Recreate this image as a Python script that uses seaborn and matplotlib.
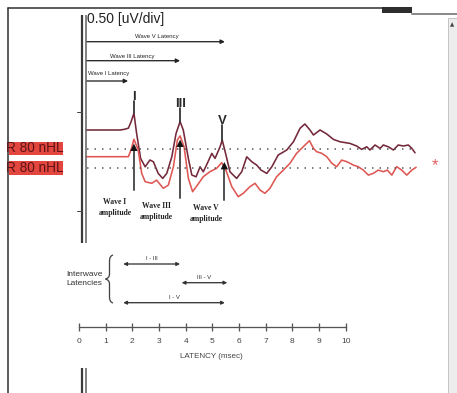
import matplotlib
matplotlib.use("Agg")
import numpy as np
import pandas as pd
import matplotlib.pyplot as plt
import seaborn as sns
from matplotlib.transforms import blended_transform_factory
from matplotlib.patches import Rectangle, PathPatch
from matplotlib.path import Path

# ---------------- data (latency in ms, amplitude in uV) ----------------
upper_latency = [0.26, 1.54, 1.69, 1.85, 1.95, 2.06, 2.16, 2.31, 2.48, 2.66, 2.79, 2.97,
                 3.14, 3.29, 3.48, 3.64, 3.79, 3.91, 4.10, 4.23, 4.39, 4.54, 4.66, 4.81,
                 4.98, 5.10, 5.29, 5.37, 5.51, 5.66, 5.91, 6.10, 6.29, 6.48, 6.66, 6.82,
                 7.04, 7.23, 7.47, 7.79, 8.04, 8.29, 8.47, 8.66, 8.79, 9.04, 9.29, 9.54,
                 9.79, 10.16, 10.41, 10.60, 10.79, 10.91, 11.10, 11.29, 11.41, 11.60,
                 11.79, 11.97, 12.16, 12.35, 12.48, 12.60]
upper_amp = [0.0, 0.0, 0.003, 0.009, 0.04, 0.084, -0.017, -0.142, -0.184, -0.15, -0.159,
             -0.217, -0.242, -0.217, -0.134, -0.017, 0.042, 0.0, -0.142, -0.225, -0.234,
             -0.184, -0.209, -0.167, -0.117, -0.142, -0.084, -0.05, -0.125, -0.209,
             -0.242, -0.209, -0.134, -0.159, -0.175, -0.2, -0.217, -0.184, -0.125, -0.1,
             -0.059, 0.009, 0.03, 0.0, -0.025, 0.0, -0.02, -0.047, -0.059, -0.067, -0.08,
             -0.097, -0.084, -0.1, -0.075, -0.092, -0.075, -0.084, -0.1, -0.075, -0.08,
             -0.075, -0.092, -0.114]
lower_latency = [0.26, 1.69, 1.85, 1.95, 2.06, 2.22, 2.35, 2.48, 2.73, 2.91, 3.16, 3.35,
                 3.54, 3.69, 3.79, 3.94, 4.10, 4.26, 4.44, 4.66, 4.91, 5.16, 5.35, 5.51,
                 5.73, 5.97, 6.16, 6.41, 6.60, 6.79, 6.97, 7.16, 7.41, 7.66, 7.91, 8.16,
                 8.41, 8.64, 8.79, 8.91, 9.10, 9.29, 9.48, 9.66, 9.85, 10.04, 10.29, 10.47,
                 10.66, 10.85, 11.04, 11.22, 11.41, 11.56, 11.73, 11.91, 12.10, 12.29,
                 12.48, 12.64]
lower_amp = [0.0, 0.0, 0.0, 0.034, 0.087, 0.034, -0.083, -0.125, -0.133, -0.117, -0.158,
             -0.142, -0.05, 0.084, 0.104, 0.05, -0.108, -0.175, -0.142, -0.1, -0.075,
             -0.058, -0.03, -0.067, -0.15, -0.2, -0.183, -0.15, -0.133, -0.167, -0.183,
             -0.158, -0.1, -0.067, -0.033, 0.017, 0.05, 0.08, 0.042, 0.025, 0.017, 0.0,
             -0.033, -0.05, -0.017, -0.025, -0.042, -0.05, -0.067, -0.092, -0.083, -0.067,
             -0.075, -0.067, -0.092, -0.05, -0.067, -0.092, -0.067, -0.053]
lower_offset = -0.1335
baseline_levels = [-0.0965, -0.1915]
baseline_span = [0.3, 12.6]

wave_names = ["I", "III", "V"]
peak_latency = [2.06, 3.79, 5.37]
peak_amp = [0.084, 0.042, -0.05]
label_level = [0.145, 0.11, 0.025]

latency_arrow_names = ["Wave I Latency", "Wave III Latency", "Wave V Latency"]
latency_arrow_start = 0.3
latency_arrow_end = [1.84, 3.79, 5.47]

amp_names = ["Wave I\namplitude", "Wave III\namplitude", "Wave V\namplitude"]
amp_marker_latency = [2.06, 3.79, 5.45]
amp_marker_level = [-0.0915, -0.0715, -0.1835]
amp_marker_bottom = [-0.30, -0.34, -0.35]

interwave_names = ["I - III", "III - V", "I - V"]
interwave_start = [1.66, 3.85, 1.66]
interwave_end = [3.79, 5.56, 5.47]

axis_ticks = list(range(0, 11))
channel_labels = ["R 80 nHL", "R 80 nHL"]

# ---------------- figure ----------------
W, H = 457, 393
PX_PER_MS, X0 = 26.67, 79.0
sns.set_style("white")
fig = plt.figure(figsize=(W / 100, H / 100), dpi=100)
ax = fig.add_axes([0, 0, 1, 1])
ax.set_xlim(-X0 / PX_PER_MS, (W - X0) / PX_PER_MS)
ax.set_ylim((130 - H) / 200, 130 / 200)
ax.axis("off")

SANS = "Liberation Sans"
SERIF = "Liberation Serif"
PT = 0.72  # points per pixel

def fy(row):
    return 1 - row / H

def fx(px):
    return px / W

tx = blended_transform_factory(ax.transData, ax.transAxes)  # x ms, y fraction

# traces
df = pd.concat([
    pd.DataFrame({"latency": upper_latency, "uV": upper_amp, "trace": "upper"}),
    pd.DataFrame({"latency": lower_latency,
                  "uV": np.array(lower_amp) + lower_offset, "trace": "lower"}),
])
sns.lineplot(data=df, x="latency", y="uV", hue="trace",
             palette={"upper": "#74293b", "lower": "#de5753"},
             sort=False, estimator=None, legend=False, lw=1.6 * PT, ax=ax)

# dotted baselines
for lv in baseline_levels:
    ax.hlines(lv, baseline_span[0], baseline_span[1], colors="#555555",
              linestyles=(0, (1, 4)), lw=1.5 * PT)

# peak labels
for name, x, pa, lv in zip(wave_names, peak_latency, peak_amp, label_level):
    ax.plot([x, x], [pa, lv], color="#333333", lw=1.8 * PT)
    ax.text(x, lv - 0.01, name, ha="center", va="bottom", fontsize=9.5,
            family=SANS, color="#2a2a2a", weight="bold")

# amplitude markers
for name, x, lv, lb in zip(amp_names, amp_marker_latency, amp_marker_level, amp_marker_bottom):
    ax.plot([x, x], [lb, lv], color="#555555", lw=2 * PT)
sns.scatterplot(x=amp_marker_latency, y=np.array(amp_marker_level) + 0.005, marker="^",
                s=28, color="#111111", edgecolor="none", ax=ax, zorder=5)
amp_text_x = [1.35, 2.9, 4.76]
amp_text_row = [198, 202, 204]
for name, x, r in zip(amp_names, amp_text_x, amp_text_row):
    ax.text(x, fy(r), name, transform=tx, ha="center", va="top", fontsize=5.5,
            family=SERIF, weight="bold", color="#222222", linespacing=1.45)

# latency arrows (top)
arrow_rows = [81, 60.7, 41.7]
label_rows = [73, 56.5, 36.5]
label_x = [1.1, 1.99, 2.92]
for name, end, r, lr, lx in zip(latency_arrow_names, latency_arrow_end, arrow_rows, label_rows, label_x):
    ax.annotate("", xy=(end, fy(r)), xytext=(latency_arrow_start, fy(r)),
                xycoords=tx, textcoords=tx,
                arrowprops=dict(arrowstyle="-|>", lw=1.3 * PT, color="#222222",
                                mutation_scale=6, shrinkA=0, shrinkB=0))
    ax.text(lx, fy(lr), name, transform=tx, ha="center", va="center", fontsize=4.3,
            family=SANS, color="#222222")

# interwave arrows
iw_rows = [264, 282.7, 302.7]
for name, s, e, r in zip(interwave_names, interwave_start, interwave_end, iw_rows):
    ax.annotate("", xy=(e, fy(r)), xytext=(s, fy(r)), xycoords=tx, textcoords=tx,
                arrowprops=dict(arrowstyle="<|-|>", lw=1.3 * PT, color="#333333",
                                mutation_scale=5, shrinkA=0, shrinkB=0))
    ax.text((s + e) / 2, fy(r - 5), name, transform=tx, ha="center", va="center",
            fontsize=4.3, family=SANS, color="#333333")
ax.text(fx(102.5), fy(279), "Interwave\nLatencies", transform=ax.transAxes, ha="right",
        va="center", fontsize=6, family=SANS, color="#333333", linespacing=1.25)
# brace
bx, top, mid, bot = 109.5, 255, 279, 303
codes = [Path.MOVETO, Path.CURVE3, Path.CURVE3, Path.LINETO,
         Path.LINETO, Path.CURVE3, Path.CURVE3, Path.CURVE3, Path.CURVE3,
         Path.LINETO, Path.CURVE3, Path.CURVE3, Path.LINETO]
verts = [(bx + 3.5, top), (bx, top + 1), (bx, top + 6),
         (bx, mid - 5), (bx, mid - 5), (bx, mid - 1), (bx - 4, mid),
         (bx, mid + 1), (bx, mid + 5),
         (bx, bot - 6), (bx, bot - 1), (bx + 3.5, bot), (bx + 3.5, bot)]
ax.add_patch(PathPatch(Path([(fx(a), fy(b)) for a, b in verts], codes),
                       transform=ax.transAxes, fill=False, lw=1.3 * PT, ec="#444444"))

# latency axis
ax2 = fig.add_axes([0, fy(327.3), 1, 0.02])
ax2.set_xlim(ax.get_xlim())
ax2.patch.set_alpha(0)
for s in ["top", "left", "right"]:
    ax2.spines[s].set_visible(False)
ax2.spines["bottom"].set_bounds(axis_ticks[0], axis_ticks[-1])
ax2.spines["bottom"].set_color("#555555")
ax2.spines["bottom"].set_linewidth(1.3 * PT)
ax2.set_yticks([])
ax2.set_xticks(axis_ticks)
ax2.tick_params(axis="x", bottom=True, direction="inout", length=8 * PT, width=1.3 * PT,
                colors="#555555", labelcolor="#444444", labelsize=6, pad=4.5)
for lab in ax2.get_xticklabels():
    lab.set_family(SANS)
ax2.set_xlabel("LATENCY (msec)", fontsize=5.8, family=SANS, color="#444444")
ax2.xaxis.set_label_coords(fx(211.7), -(352.5 - 327.3) / (0.02 * H))

# ---------------- screenshot frame ----------------
ax.text(fx(87), fy(19), "0.50 [uV/div]", transform=ax.transAxes, ha="left", va="center",
        fontsize=10, family=SANS, color="#222222")
# double vertical bar
for seg in [(15, 243), (368, 393)]:
    ax.plot([fx(81.5)] * 2, [fy(seg[0]), fy(seg[1])], transform=ax.transAxes,
            color="#3a3a3a", lw=2.2 * PT, solid_capstyle="butt")
    ax.plot([fx(85.8)] * 2, [fy(seg[0]), fy(seg[1])], transform=ax.transAxes,
            color="#666666", lw=1.6 * PT, solid_capstyle="butt")
for r in [112, 211]:
    ax.plot([fx(77), fx(81.5)], [fy(r), fy(r)], transform=ax.transAxes, color="#444444", lw=1 * PT)
# window border
ax.plot([fx(8), fx(8)], [fy(7.5), fy(393)], transform=ax.transAxes, color="#2a2a2a", lw=1.5 * PT)
ax.plot([fx(8), fx(382)], [fy(7.5), fy(7.5)], transform=ax.transAxes, color="#2a2a2a", lw=1.5 * PT)
ax.add_patch(Rectangle((fx(382), fy(13)), fx(30), 5.5 / H, transform=ax.transAxes,
                       fc="#2e2e2e", ec="none"))
ax.plot([fx(412), fx(457)], [fy(13.5), fy(13.5)], transform=ax.transAxes, color="#8a8a8a", lw=2 * PT)
ax.add_patch(Rectangle((fx(448), 0), fx(9), fy(18), transform=ax.transAxes,
                       fc="#ededed", ec="#c4c4c4", lw=1 * PT))
ax.text(fx(452.5), fy(25), "\u25b2", transform=ax.transAxes, ha="center", va="center",
        fontsize=4, color="#444444", family="DejaVu Sans")
# channel label boxes
for lab, (r0, r1) in zip(channel_labels, [(141.7, 155), (160.7, 175)]):
    rect = Rectangle((fx(8.8), fy(r1)), fx(63 - 8.8), (r1 - r0) / H, transform=ax.transAxes,
                     fc="#e2463f", ec="none")
    ax.add_patch(rect)
    t = ax.text(fx(63.5), fy((r0 + r1) / 2), lab, transform=ax.transAxes, ha="right",
                va="center", fontsize=9.8, family=SANS, color="#5e1416")
    t.set_clip_path(rect)
# asterisk
ax.text(fx(435), fy(166), "*", transform=ax.transAxes, ha="center", va="center",
        fontsize=12, family=SANS, color="#e06060")

fig.savefig("out.png", dpi=100)
